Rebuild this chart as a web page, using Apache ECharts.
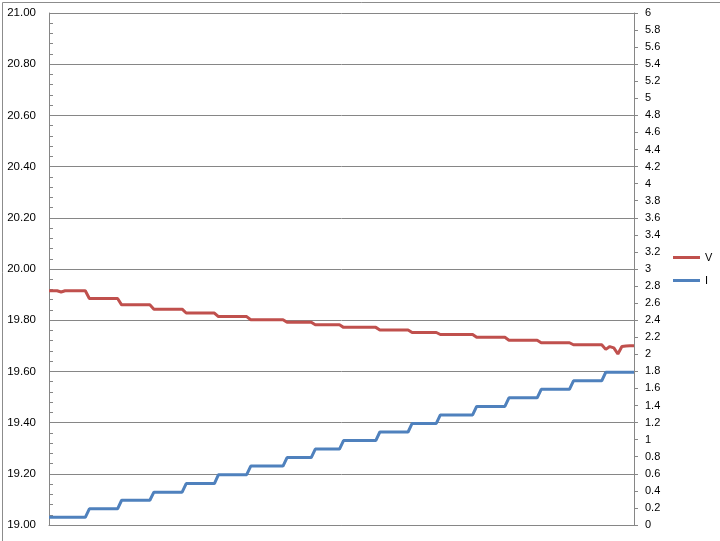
<!DOCTYPE html>
<html>
<head>
<meta charset="utf-8">
<script src="https://cdn.jsdelivr.net/npm/echarts@6/dist/echarts.min.js"></script>
<style>
html,body{margin:0;padding:0;background:#fff;}
#chart{width:720px;height:541px;}
</style>
</head>
<body>
<div id="chart"></div>
<script>
// Series values (one value per sample)
const vValues = [
  19.915, 19.915, 19.915, 19.91, 19.915, 19.915, 19.915, 19.915, 19.915, 19.915,
  19.885, 19.885, 19.885, 19.885, 19.885, 19.885, 19.885, 19.885,
  19.86, 19.86, 19.86, 19.86, 19.86, 19.86, 19.86, 19.86,
  19.843, 19.843, 19.843, 19.843, 19.843, 19.843, 19.843, 19.843,
  19.828, 19.828, 19.828, 19.828, 19.828, 19.828, 19.828, 19.828,
  19.814, 19.814, 19.814, 19.814, 19.814, 19.814, 19.814, 19.814,
  19.802, 19.802, 19.802, 19.802, 19.802, 19.802, 19.802, 19.802, 19.802,
  19.792, 19.792, 19.792, 19.792, 19.792, 19.792, 19.792,
  19.782, 19.782, 19.782, 19.782, 19.782, 19.782, 19.782,
  19.772, 19.772, 19.772, 19.772, 19.772, 19.772, 19.772, 19.772, 19.772,
  19.762, 19.762, 19.762, 19.762, 19.762, 19.762, 19.762, 19.762,
  19.752, 19.752, 19.752, 19.752, 19.752, 19.752, 19.752,
  19.744, 19.744, 19.744, 19.744, 19.744, 19.744, 19.744, 19.744, 19.744,
  19.733, 19.733, 19.733, 19.733, 19.733, 19.733, 19.733, 19.733,
  19.722, 19.722, 19.722, 19.722, 19.722, 19.722, 19.722, 19.722,
  19.712, 19.712, 19.712, 19.712, 19.712, 19.712, 19.712, 19.712,
  19.704, 19.704, 19.704, 19.704, 19.704, 19.704, 19.704, 19.704,
  19.686, 19.697, 19.692, 19.668, 19.697, 19.699, 19.70, 19.70
];
const iValues = [
  0.09, 0.09, 0.09, 0.09, 0.09, 0.09, 0.09, 0.09, 0.09, 0.09,
  0.19, 0.19, 0.19, 0.19, 0.19, 0.19, 0.19, 0.19,
  0.29, 0.29, 0.29, 0.29, 0.29, 0.29, 0.29, 0.29,
  0.385, 0.385, 0.385, 0.385, 0.385, 0.385, 0.385, 0.385,
  0.485, 0.485, 0.485, 0.485, 0.485, 0.485, 0.485, 0.485,
  0.59, 0.59, 0.59, 0.59, 0.59, 0.59, 0.59, 0.59,
  0.69, 0.69, 0.69, 0.69, 0.69, 0.69, 0.69, 0.69, 0.69,
  0.79, 0.79, 0.79, 0.79, 0.79, 0.79, 0.79,
  0.89, 0.89, 0.89, 0.89, 0.89, 0.89, 0.89,
  0.99, 0.99, 0.99, 0.99, 0.99, 0.99, 0.99, 0.99, 0.99,
  1.09, 1.09, 1.09, 1.09, 1.09, 1.09, 1.09, 1.09,
  1.19, 1.19, 1.19, 1.19, 1.19, 1.19, 1.19,
  1.29, 1.29, 1.29, 1.29, 1.29, 1.29, 1.29, 1.29, 1.29,
  1.39, 1.39, 1.39, 1.39, 1.39, 1.39, 1.39, 1.39,
  1.49, 1.49, 1.49, 1.49, 1.49, 1.49, 1.49, 1.49,
  1.59, 1.59, 1.59, 1.59, 1.59, 1.59, 1.59, 1.59,
  1.69, 1.69, 1.69, 1.69, 1.69, 1.69, 1.69, 1.69,
  1.79, 1.79, 1.79, 1.79, 1.79, 1.79, 1.79, 1.79
];
// Sample numbers (x categories, unlabeled in the reference)
const samples = vValues.map((_, k) => k + 1);
const seriesNames = ['V', 'I'];
// Axis ranges / tick steps
const leftMin = 19, leftMax = 21, leftStep = 0.2;
const rightMin = 0, rightMax = 6, rightStep = 0.2;

const chart = echarts.init(document.getElementById('chart'), null, {renderer: 'canvas'});
const font = '"Liberation Sans", Arial, sans-serif';
const gray = '#868686';
chart.setOption({
  animation: false,
  backgroundColor: '#fff',
  graphic: [{
    type: 'rect', left: 0, top: 0,
    shape: {x: 0.5, y: 0.5, width: 719, height: 540},
    style: {fill: 'none', stroke: '#8c8c8c', lineWidth: 1},
    silent: true
  }],
  grid: {left: 49, right: 86, top: 13, bottom: 16, containLabel: false},
  legend: {
    orient: 'vertical', left: 673, top: 252, padding: 0,
    itemWidth: 27, itemHeight: 3, itemGap: 12,
    icon: 'rect',
    textStyle: {fontFamily: font, fontSize: 11, color: '#000'},
    data: seriesNames
  },
  xAxis: {
    type: 'category', data: samples, boundaryGap: false,
    axisLine: {lineStyle: {color: gray, width: 1}},
    axisTick: {show: false}, axisLabel: {show: false}, splitLine: {show: false}
  },
  yAxis: [{
    type: 'value', position: 'left', min: leftMin, max: leftMax, interval: leftStep,
    axisLine: {show: true, lineStyle: {color: gray}},
    axisTick: {show: true, inside: true, length: 4, lineStyle: {color: gray}},
    minorTick: {show: true, splitNumber: 5, length: 4, lineStyle: {color: gray}},
    axisLabel: {formatter: v => v.toFixed(2), fontFamily: font, fontSize: 11.5, color: '#000', margin: 13},
    splitLine: {show: true, lineStyle: {color: gray, width: 1}}
  }, {
    type: 'value', position: 'right', min: rightMin, max: rightMax, interval: rightStep,
    axisLine: {show: true, lineStyle: {color: gray}},
    axisTick: {show: true, length: 4, lineStyle: {color: gray}},
    axisLabel: {formatter: v => String(Math.round(v * 10) / 10), fontFamily: font, fontSize: 11, color: '#000', margin: 11},
    splitLine: {show: false}
  }],
  series: [{
    name: seriesNames[0], type: 'line', yAxisIndex: 0, data: vValues,
    showSymbol: false, symbol: 'none',
    lineStyle: {color: '#C0504D', width: 3}, itemStyle: {color: '#C0504D'}
  }, {
    name: seriesNames[1], type: 'line', yAxisIndex: 1, data: iValues,
    showSymbol: false, symbol: 'none',
    lineStyle: {color: '#4F81BD', width: 3}, itemStyle: {color: '#4F81BD'}
  }]
});
</script>
</body>
</html>
